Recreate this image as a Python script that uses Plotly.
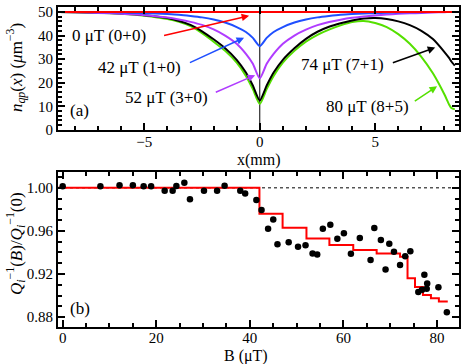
import plotly.graph_objects as go

# --- panel (a): n_qp(x) profiles ---
x_mm = [-8.7, -8, -7, -6, -5, -4, -3.5, -3, -2.5, -2, -1.5, -1, -0.6, -0.3, 0,
        0.3, 0.6, 1, 1.5, 2, 2.5, 3, 3.5, 4, 4.5, 5, 5.5, 6, 6.5, 7, 7.5, 8, 8.2, 8.3, 8.45]

n_0uT = [50] * len(x_mm)
n_42uT = [50, 50, 49.9, 49.8, 49.5, 49.1, 48.8, 48.3, 47.7, 46.8, 45.5, 43.6, 41.5, 39.0, 35.5,
          39.0, 41.5, 43.6, 45.5, 46.8, 47.7, 48.3, 48.8, 49.1, 49.3, 49.5, 49.7, 49.8, 49.9, 49.9, 50, 50, 50, 50, 50]
n_52uT = [50, 49.9, 49.6, 49.2, 48.6, 47.6, 46.8, 45.8, 44.5, 42.6, 40.0, 36.5, 32.2, 28.0, 21.8,
          28.0, 32.2, 36.5, 40.0, 42.5, 44.4, 45.7, 46.7, 47.5, 48.1, 48.5, 48.9, 49.2, 49.4, 49.6, 49.8, 49.9, 50, 50, 50]
n_74uT = [50, 49.9, 49.7, 49.3, 48.6, 47.4, 46.2, 44.5, 41.8, 38.4, 34.6, 29.7, 24.3, 18.8, 12.5,
          18.8, 24.3, 29.7, 34.6, 38.6, 41.6, 43.7, 45.2, 46.4, 47.2, 47.4, 47.0, 46.0, 44.4, 42.0, 38.5, 33.0, 30.5, 29.0, 27.2]
n_80uT = [50, 49.9, 49.7, 49.2, 48.4, 47.0, 45.8, 44.0, 41.0, 37.4, 33.5, 28.5, 22.9, 17.3, 11.0,
          17.3, 22.9, 28.5, 33.5, 37.4, 40.3, 42.5, 44.3, 45.7, 46.2, 45.3, 43.6, 40.6, 36.5, 31.0, 24.0, 15.0, 10.8, 9.3, 8.7]

# --- panel (b): normalized Q_i^-1 vs field ---
B_meas = [0, 8.06, 12.15, 15.0, 17.3, 18.9, 21.8, 23.5, 24.3, 26.0, 27.2, 30.2, 33.0, 34.6,
          37.95, 39.0, 41.4, 42.5, 43.9, 45.0, 45.9, 48.3, 50.3, 51.9, 53.4, 54.4, 55.6, 57.2,
          58.7, 60.1, 61.6, 63.5, 65.8, 66.6, 68.0, 69.0, 69.8, 70.8, 72.1, 73.2, 74.3, 76.0,
          76.8, 77.3, 77.8, 77.9, 80.3, 82.1]
Q_meas = [1.0014, 1.0014, 1.0023, 1.0023, 1.0014, 1.0014, 0.9974, 0.9974, 1.0017, 1.0048, 0.9894,
          0.9974, 0.9974, 1.0020, 0.9974, 0.9947, 0.9888, 0.9795, 0.9620, 0.9707, 0.9477, 0.9495,
          0.9454, 0.9467, 0.9390, 0.9380, 0.9620, 0.9657, 0.9528, 0.9578, 0.9387, 0.9535, 0.9329,
          0.9627, 0.9516, 0.9242, 0.9482, 0.9406, 0.9283, 0.9366, 0.9412, 0.9034, 0.9055, 0.9194,
          0.9062, 0.9113, 0.9077, 0.8846]

B_step = [-1, 42.05, 47.0, 52.1, 57.0, 62.1, 67.1, 72.1, 73.7, 75.3, 77.0, 78.7, 80.4, 82.3]
Q_step = [1.0, 0.976, 0.963, 0.953, 0.947, 0.9424, 0.939, 0.936, 0.916, 0.908, 0.9005, 0.8974, 0.8944, 0.8944]

labels = ["0 μT (0+0)", "42 μT (1+0)", "52 μT (3+0)", "74 μT (7+1)", "80 μT (8+5)"]
colors = ["#ff0000", "#1f4fff", "#b03cff", "#000000", "#55e000"]

FONT = "Liberation Serif, Times New Roman, serif"

fig = go.Figure()

# zero line in (a)
fig.add_trace(go.Scatter(x=[0, 0], y=[0, 52.1], mode="lines",
                         line=dict(color="black", width=1), xaxis="x", yaxis="y"))

for ys, c in zip([n_80uT, n_74uT, n_52uT, n_42uT, n_0uT], colors[::-1]):
    fig.add_trace(go.Scatter(x=x_mm, y=ys, mode="lines", line=dict(color=c, width=2, shape="spline", smoothing=0.6),
                             xaxis="x", yaxis="y"))

# (b)
fig.add_trace(go.Scatter(x=[-1, 84.7], y=[1.0, 1.0], mode="lines",
                         line=dict(color="black", width=1, dash="dot"), xaxis="x2", yaxis="y2"))
fig.add_trace(go.Scatter(x=B_step, y=Q_step, mode="lines", line=dict(color="#ff0000", width=2, shape="hv"),
                         xaxis="x2", yaxis="y2"))
fig.add_trace(go.Scatter(x=B_meas, y=Q_meas, mode="markers", marker=dict(color="black", size=6.5),
                         xaxis="x2", yaxis="y2"))

axis_common = dict(showline=True, linecolor="black", linewidth=2, mirror="allticks", ticks="inside",
                   ticklen=7, tickwidth=1.5, tickcolor="black", showgrid=False, zeroline=False,
                   tickfont=dict(family=FONT, size=15, color="black"))

fig.update_layout(
    width=465, height=364,
    margin=dict(l=58, r=4, t=4, b=37),
    plot_bgcolor="white", paper_bgcolor="white",
    showlegend=False,
    font=dict(family=FONT, size=16, color="black"),
    xaxis=dict(domain=[0, 1], anchor="y", range=[-8.74, 8.63], dtick=5, tick0=0, ticklabelstandoff=-3,
               minor=dict(dtick=1, ticks="inside", ticklen=4, tickcolor="black"),
               **axis_common),
    yaxis=dict(domain=[0.616, 1.0], anchor="x", range=[0, 52.1], dtick=10,
               minor=dict(dtick=2, ticks="inside", ticklen=4, tickcolor="black"),
               **axis_common),
    xaxis2=dict(domain=[0, 1], anchor="y2", range=[-1.0, 84.7], dtick=20, tick0=0, ticklabelstandoff=-4,
                minor=dict(dtick=5, ticks="inside", ticklen=4, tickcolor="black"),
                **axis_common),
    yaxis2=dict(domain=[0, 0.483], anchor="x2", range=[0.8708, 1.0143], dtick=0.04, tick0=0.88,
                tickformat=".2f",
                minor=dict(dtick=0.01, ticks="inside", ticklen=4, tickcolor="black"),
                **axis_common),
)

# curve labels with arrows
text_pos = [(-6.54, 40.0), (-5.2, 26.5), (-4.06, 13.9), (3.57, 27.7), (4.65, 10.1)]
arrow_tail = [(-4.21, 39.9), (-3.09, 28.2), (-1.97, 15.7), (5.70, 28.2), (6.65, 11.8)]
arrow_head = [(-0.46, 48.4), (-0.68, 39.1), (-0.2, 23.2), (7.60, 34.9), (7.68, 18.5)]

for lab, c, tp, at, ah in zip(labels, colors, text_pos, arrow_tail, arrow_head):
    fig.add_annotation(x=tp[0], y=tp[1], xref="x", yref="y", text=lab, showarrow=False,
                       font=dict(family=FONT, size=17, color="black"))
    fig.add_annotation(x=ah[0], y=ah[1], ax=at[0], ay=at[1], xref="x", yref="y", axref="x", ayref="y",
                       text="", showarrow=True, arrowhead=2, arrowsize=1, arrowwidth=1.5, arrowcolor=c)

fig.add_annotation(x=-7.79, y=8.4, xref="x", yref="y", text="(a)", showarrow=False,
                   font=dict(family=FONT, size=17))
fig.add_annotation(x=3.7, y=0.888, xref="x2", yref="y2", text="(b)", showarrow=False,
                   font=dict(family=FONT, size=17))

# axis titles
fig.add_annotation(x=0.5, y=0.521, xref="paper", yref="paper", xanchor="center", yanchor="middle",
                   text="x(mm)", showarrow=False, font=dict(family=FONT, size=16))
fig.add_annotation(x=0.47, y=-0.091, xref="paper", yref="paper", xanchor="center", yanchor="middle",
                   text="B (μT)", showarrow=False, font=dict(family=FONT, size=16))
fig.add_annotation(x=-0.104, y=0.81, xref="paper", yref="paper", xanchor="center", yanchor="middle",
                   textangle=-90, showarrow=False,
                   text="<i>n</i><sub><i>qp</i></sub>(<i>x</i>) (<i>μ</i>m<sup>−3</sup>)",
                   font=dict(family=FONT, size=17))
fig.add_annotation(x=-0.104, y=0.26, xref="paper", yref="paper", xanchor="center", yanchor="middle",
                   textangle=-90, showarrow=False,
                   text="<i>Q</i><sub><i>i</i></sub><sup>−1</sup>(<i>B</i>)/<i>Q</i><sub><i>i</i></sub><sup>−1</sup>(0)",
                   font=dict(family=FONT, size=17))

fig.write_html("out.html", config={"displayModeBar": False},
               post_script="document.body.style.margin='0';document.body.style.overflow='hidden';")
